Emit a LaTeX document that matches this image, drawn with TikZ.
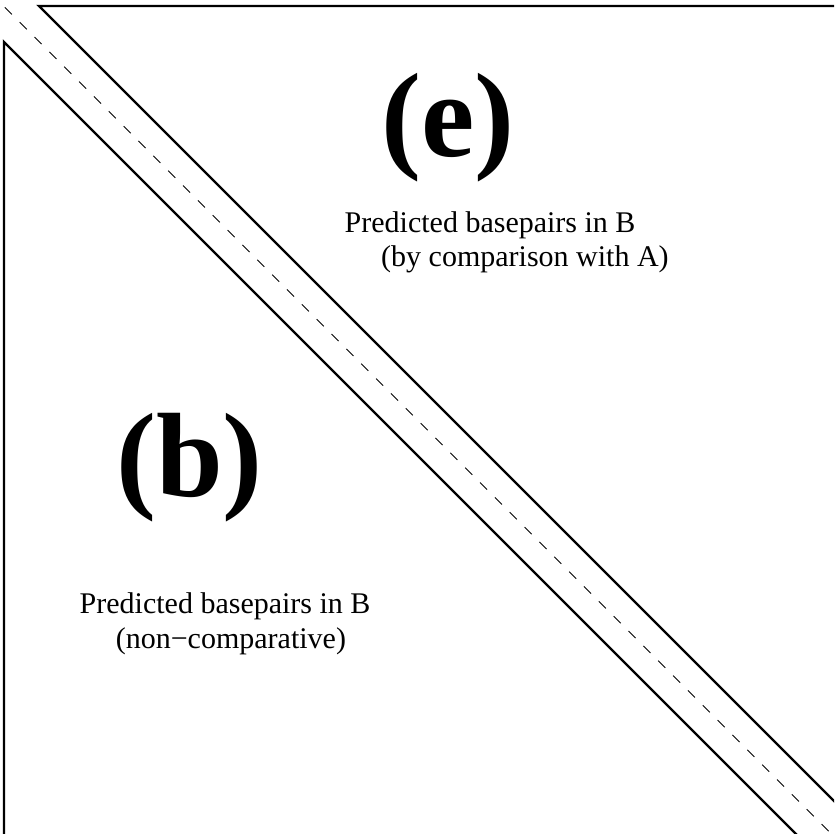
\documentclass[tikz,border=0pt]{standalone}
\usepackage{fontspec}
\setmainfont{Liberation Serif}
\begin{document}
\begin{tikzpicture}[x=1pt,y=-1pt,
  edge/.style={line width=2.4pt,line join=miter},
  mid/.style={line width=0.9pt,dash pattern=on 10pt off 11pt},
  big/.style={anchor=base west,inner sep=0pt,font=\fontsize{120}{130}\selectfont\bfseries},
  lbl/.style={anchor=base west,inner sep=0pt,font=\fontsize{30}{36}\selectfont}]
\useasboundingbox (0,0) rectangle (834,834);
\begin{scope}
\clip (0,0) rectangle (834,834);
\draw[edge] (860,6) -- (39,6) -- (870,837);
\draw[edge] (4,860) -- (4,42) -- (830,868);
\draw[mid] (-10,-7.5) -- (850,852.5);
\end{scope}
\node[big] (e) at (381,157) {(e)};
\node[lbl] (e1) at (344.5,233) {Predicted basepairs in B};
\node[lbl] (e2) at (381,266) {(by comparison with A)};
\node[big] (b) at (116,496) {(b)};
\node[lbl] (b1) at (79.5,613) {Predicted basepairs in B};
\node[lbl] (b2) at (115.6,648) {(non−comparative)};
\end{tikzpicture}
\end{document}
